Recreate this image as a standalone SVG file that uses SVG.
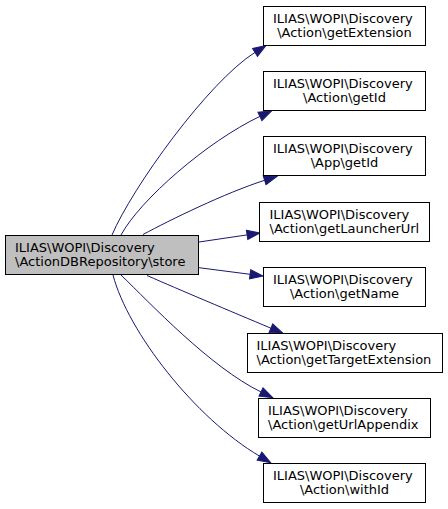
<svg xmlns="http://www.w3.org/2000/svg" width="448" height="509" viewBox="0 0 448 509">
<style>
  .bg { fill: #ffffff; }
  .node rect { fill: #ffffff; stroke: #000000; stroke-width: 1; }
  .node.main rect { fill: #bfbfbf; }
  .node text { font-family: "DejaVu Sans", "Liberation Sans", sans-serif; font-size: 13px; fill: #000000; }
  .l { text-anchor: start; }
  .c { text-anchor: middle; }
  .edges path { fill: none; stroke: #191970; stroke-width: 1; marker-end: url(#arrow); }
</style>
<defs>
  <marker id="arrow" markerUnits="userSpaceOnUse" markerWidth="14" markerHeight="10" refX="0" refY="4.67" orient="auto" overflow="visible">
    <path d="M0,0 L13,4.67 L0,9.33 Z" fill="#191970" stroke="#191970" stroke-width="1"/>
  </marker>
</defs>
<rect class="bg" x="0" y="0" width="448" height="509"/>

<g id="edges" class="edges">
  <path d="M112,235 C132,188 208,82 255,52.4"/>
  <path d="M121,235 C140,200 207,141.5 259.9,116.4"/>
  <path d="M143,234.5 C170,220 225,193 264.6,180.3"/>
  <path d="M199,242 L247.1,234.9"/>
  <path d="M199,267.7 L250.1,274.3"/>
  <path d="M147,275.5 C180,290 230,311 270.9,328.2"/>
  <path d="M121,275 C150,303 210,367 261,392"/>
  <path d="M113,275 C128,332 195,418 259.5,456.1"/>
</g>

<g id="node-store" class="node main">
  <rect x="5.5" y="235.5" width="193" height="39"/>
  <text class="l" x="15" y="251.5">ILIAS\WOPI\Discovery</text>
  <text class="l" x="15" y="266">\ActionDBRepository\store</text>
</g>

<g id="node-getExtension" class="node">
  <rect x="263.5" y="6.5" width="162" height="39"/>
  <text class="l" x="273" y="22.5">ILIAS\WOPI\Discovery</text>
  <text class="c" x="344.5" y="37">\Action\getExtension</text>
</g>

<g id="node-action-getId" class="node">
  <rect x="263.5" y="71.5" width="162" height="39"/>
  <text class="l" x="273" y="87.5">ILIAS\WOPI\Discovery</text>
  <text class="c" x="344.5" y="102">\Action\getId</text>
</g>

<g id="node-app-getId" class="node">
  <rect x="263.5" y="136.5" width="162" height="39"/>
  <text class="l" x="273" y="152.5">ILIAS\WOPI\Discovery</text>
  <text class="c" x="344.5" y="167">\App\getId</text>
</g>

<g id="node-getLauncherUrl" class="node">
  <rect x="259.5" y="202.5" width="170" height="39"/>
  <text class="l" x="269.5" y="218.5">ILIAS\WOPI\Discovery</text>
  <text class="l" x="269.5" y="233">\Action\getLauncherUrl</text>
</g>

<g id="node-getName" class="node">
  <rect x="263.5" y="267.5" width="162" height="39"/>
  <text class="l" x="273" y="283.5">ILIAS\WOPI\Discovery</text>
  <text class="c" x="344.5" y="298">\Action\getName</text>
</g>

<g id="node-getTargetExtension" class="node">
  <rect x="247.5" y="333.5" width="195" height="39"/>
  <text class="l" x="256.5" y="349.5">ILIAS\WOPI\Discovery</text>
  <text class="l" x="256.5" y="364">\Action\getTargetExtension</text>
</g>

<g id="node-getUrlAppendix" class="node">
  <rect x="258.5" y="398.5" width="172" height="39"/>
  <text class="l" x="268" y="414.5">ILIAS\WOPI\Discovery</text>
  <text class="l" x="268" y="429">\Action\getUrlAppendix</text>
</g>

<g id="node-withId" class="node">
  <rect x="263.5" y="463.5" width="162" height="39"/>
  <text class="l" x="273" y="479.5">ILIAS\WOPI\Discovery</text>
  <text class="c" x="344.5" y="494">\Action\withId</text>
</g>
</svg>
